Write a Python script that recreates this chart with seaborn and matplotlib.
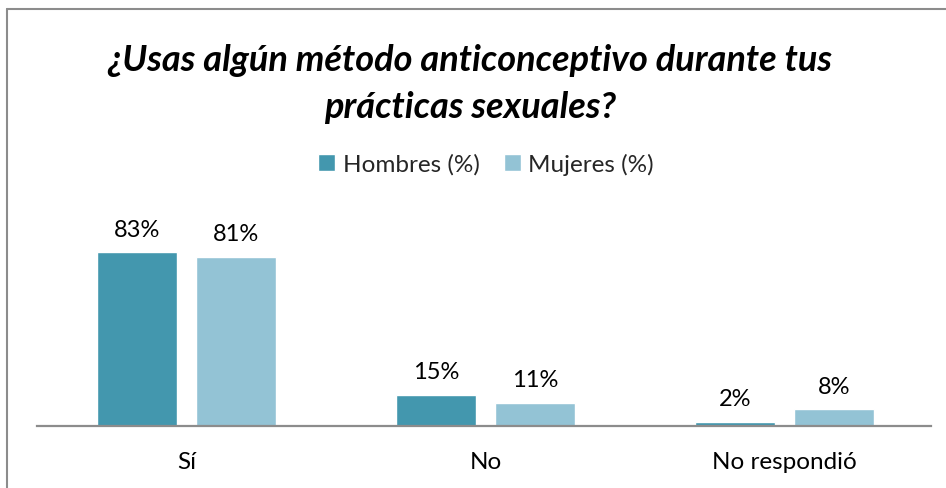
import pandas as pd
import seaborn as sns
import matplotlib.pyplot as plt
from matplotlib.lines import Line2D

# Data
categories = ['Sí', 'No', 'No respondió']
hombres = [83, 15, 2]
mujeres = [81, 11, 8]
series_names = ['Hombres (%)', 'Mujeres (%)']
colors = ['#4397AE', '#93C3D5']

df = pd.DataFrame({
    'Respuesta': categories * 2,
    'Porcentaje': hombres + mujeres,
    'Sexo': [series_names[0]] * 3 + [series_names[1]] * 3,
})

sns.set_theme(style='white')
plt.rcParams['font.family'] = ['Lato', 'DejaVu Sans']

fig = plt.figure(figsize=(9.46, 4.89), dpi=100)
ax = fig.add_axes([37 / 946, 62 / 489, 894 / 946, 230 / 489])

sns.barplot(data=df, x='Respuesta', y='Porcentaje', hue='Sexo',
            palette=colors, width=0.662, gap=0.2, ax=ax, saturation=1,
            legend=True)

ax.set_xlim(-0.5, 2.49)
ax.set_ylim(0, 110)

for cont in ax.containers:
    ax.bar_label(cont, fmt='%d%%', padding=9, fontsize=17, color='black')

ax.set_xlabel('')
ax.set_ylabel('')
ax.set_yticks([])
ax.tick_params(axis='x', length=0, pad=18, labelsize=17.5, labelcolor='black')
for side in ['top', 'left', 'right']:
    ax.spines[side].set_visible(False)
ax.spines['bottom'].set_color('#8c8c8c')
ax.spines['bottom'].set_linewidth(1.6)

handles, labels = ax.get_legend_handles_labels()
ax.legend(handles, labels, ncol=2, frameon=False, fontsize=17.5,
          loc='center', bbox_to_anchor=(486 / 946, 1 - 165 / 489),
          bbox_transform=fig.transFigure, handlelength=0.7, handleheight=0.7,
          handletextpad=0.3, columnspacing=1.0)

fig.text(470 / 946, 1 - 84 / 489,
         '¿Usas algún método anticonceptivo durante tus\nprácticas sexuales?',
         ha='center', va='center', fontsize=26, fontweight='bold',
         fontstyle='italic', linespacing=1.5, color='black')

# chart area border (left and top edges visible)
fig.add_artist(Line2D([7 / 946, 7 / 946], [0, 1 - 10 / 489],
                      transform=fig.transFigure, color='#8c8c8c', lw=1.5))
fig.add_artist(Line2D([7 / 946, 1], [1 - 10 / 489, 1 - 10 / 489],
                      transform=fig.transFigure, color='#8c8c8c', lw=1.5))

fig.savefig('out.png', dpi=100, facecolor='white')
